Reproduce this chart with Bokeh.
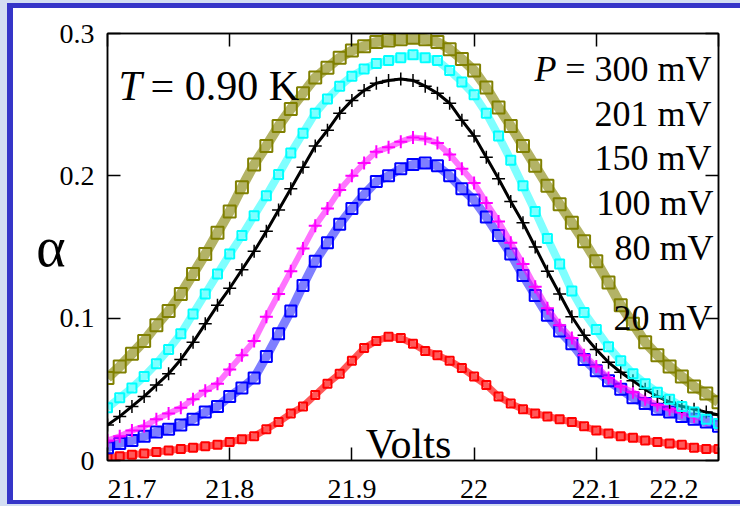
from bokeh.plotting import figure
from bokeh.models import Label, FixedTicker, CustomJSTickFormatter, LinearAxis, Range1d
from bokeh.embed import file_html
from bokeh.resources import INLINE

volts = [21.70, 21.71, 21.72, 21.73, 21.74, 21.75, 21.76, 21.77, 21.78, 21.79,
         21.80, 21.81, 21.82, 21.83, 21.84, 21.85, 21.86, 21.87, 21.88, 21.89,
         21.90, 21.91, 21.92, 21.93, 21.94, 21.95, 21.96, 21.97, 21.98, 21.99,
         22.00, 22.01, 22.02, 22.03, 22.04, 22.05, 22.06, 22.07, 22.08, 22.09,
         22.10, 22.11, 22.12, 22.13, 22.14, 22.15, 22.16, 22.17, 22.18, 22.19,
         22.20]

p300 = [0.058, 0.066, 0.075, 0.084, 0.095, 0.105, 0.117, 0.131, 0.145, 0.160,
        0.175, 0.192, 0.208, 0.221, 0.235, 0.247, 0.258, 0.269, 0.276, 0.283,
        0.288, 0.291, 0.294, 0.295, 0.296, 0.297, 0.296, 0.294, 0.289, 0.282,
        0.274, 0.262, 0.248, 0.235, 0.221, 0.207, 0.193, 0.180, 0.167, 0.154,
        0.140, 0.125, 0.109, 0.096, 0.083, 0.074, 0.066, 0.059, 0.052, 0.047,
        0.041]
p201 = [0.037, 0.044, 0.051, 0.059, 0.068, 0.078, 0.089, 0.103, 0.117, 0.131,
        0.145, 0.158, 0.172, 0.186, 0.201, 0.216, 0.230, 0.244, 0.254, 0.263,
        0.270, 0.275, 0.279, 0.281, 0.283, 0.285, 0.283, 0.281, 0.274, 0.266,
        0.257, 0.244, 0.228, 0.211, 0.193, 0.175, 0.156, 0.138, 0.119, 0.104,
        0.092, 0.080, 0.070, 0.061, 0.054, 0.048, 0.043, 0.038, 0.034, 0.029,
        0.026]
p150 = [0.025, 0.031, 0.038, 0.045, 0.053, 0.061, 0.071, 0.083, 0.096, 0.109,
        0.121, 0.134, 0.147, 0.161, 0.176, 0.191, 0.206, 0.221, 0.232, 0.244,
        0.253, 0.260, 0.265, 0.267, 0.268, 0.267, 0.263, 0.258, 0.251, 0.239,
        0.228, 0.213, 0.198, 0.182, 0.167, 0.150, 0.133, 0.117, 0.101, 0.088,
        0.078, 0.069, 0.062, 0.056, 0.050, 0.045, 0.041, 0.038, 0.036, 0.034,
        0.032]
p100 = [0.014, 0.017, 0.021, 0.024, 0.029, 0.033, 0.037, 0.043, 0.049, 0.054,
        0.064, 0.074, 0.084, 0.101, 0.117, 0.133, 0.149, 0.165, 0.177, 0.190,
        0.200, 0.209, 0.217, 0.220, 0.224, 0.227, 0.226, 0.223, 0.215, 0.205,
        0.195, 0.181, 0.168, 0.153, 0.138, 0.122, 0.107, 0.095, 0.086, 0.074,
        0.066, 0.058, 0.052, 0.048, 0.043, 0.039, 0.036, 0.034, 0.031, 0.029,
        0.026]
p80 = [0.009, 0.012, 0.014, 0.017, 0.020, 0.022, 0.025, 0.029, 0.034, 0.038,
       0.045, 0.051, 0.058, 0.073, 0.089, 0.105, 0.123, 0.140, 0.153, 0.166,
       0.177, 0.187, 0.196, 0.200, 0.205, 0.208, 0.209, 0.207, 0.200, 0.191,
       0.183, 0.171, 0.158, 0.145, 0.130, 0.116, 0.102, 0.091, 0.082, 0.071,
       0.063, 0.056, 0.050, 0.044, 0.040, 0.036, 0.034, 0.031, 0.029, 0.027,
       0.024]
p20 = [0.002, 0.003, 0.004, 0.005, 0.006, 0.007, 0.008, 0.009, 0.010, 0.011,
       0.013, 0.015, 0.017, 0.022, 0.027, 0.033, 0.038, 0.046, 0.054, 0.061,
       0.070, 0.079, 0.084, 0.087, 0.086, 0.082, 0.077, 0.074, 0.070, 0.065,
       0.059, 0.053, 0.045, 0.040, 0.036, 0.033, 0.031, 0.029, 0.027, 0.024,
       0.021, 0.019, 0.017, 0.016, 0.014, 0.013, 0.012, 0.011, 0.009, 0.008,
       0.008]

x_ticks = [21.7, 21.8, 21.9, 22.0, 22.1, 22.2]
x_tick_labels = ["21.7", "21.8", "21.9", "22", "22.1", "22.2"]
y_ticks = [0.0, 0.1, 0.2, 0.3]
y_tick_labels = ["0", "0.1", "0.2", "0.3"]
power_labels = ["300 mV", "201 mV", "150 mV", "100 mV", "80 mV", "20 mV"]

FONT = "Liberation Serif"
FS = "\u2007"   # figure space: shifts the end labels inward like the original
PS = "\u2008"   # punctuation space

p = figure(width=740, height=506, x_range=Range1d(21.7, 22.2), y_range=Range1d(0, 0.3),
           output_backend="svg", toolbar_location=None,
           min_border_left=107, min_border_right=22, min_border_top=33, min_border_bottom=43)
p.border_fill_alpha = 0
p.background_fill_color = "white"
p.outline_line_color = "black"
p.outline_line_width = 1.5
p.xgrid.visible = False
p.ygrid.visible = False
p.styles = {
    "background-color": "#d3def2",
    "background-image": "linear-gradient(#ffffff, #ffffff), linear-gradient(#3535c8, #3535c8)",
    "background-position": "13px 8px, 7px 3px",
    "background-size": "760px 492px, 760px 501px",
    "background-repeat": "no-repeat",
}

def style_axis(ax, ticks, labels):
    ax.ticker = FixedTicker(ticks=ticks)
    ax.major_tick_in = 13
    ax.major_tick_out = 0
    ax.minor_tick_in = 0
    ax.minor_tick_out = 0
    ax.axis_line_color = "black"
    ax.axis_line_width = 1.5
    ax.major_tick_line_width = 1.5
    ax.major_tick_line_color = "black"
    ax.major_label_text_font = FONT
    ax.major_label_text_color = "black"
    if labels is not None:
        ax.formatter = CustomJSTickFormatter(args=dict(labels=labels), code="return labels[index]")
        ax.major_label_text_font_size = "28px"
    else:
        ax.formatter = CustomJSTickFormatter(code="return ''")
        ax.major_label_text_font_size = "8px"
        ax.major_label_standoff = 0

bottom_labels = list(x_tick_labels)
bottom_labels[0] = FS * 3 + PS + x_tick_labels[0]
bottom_labels[-1] = x_tick_labels[-1] + FS * 2 + PS * 2
style_axis(p.xaxis[0], x_ticks, bottom_labels)
p.xaxis[0].major_label_standoff = 12
style_axis(p.yaxis[0], y_ticks, y_tick_labels)
p.yaxis[0].major_label_standoff = 13
p.yaxis[0].axis_label = "α"
p.yaxis[0].axis_label_orientation = "horizontal"
p.yaxis[0].axis_label_text_font = FONT
p.yaxis[0].axis_label_text_font_style = "normal"
p.yaxis[0].axis_label_text_font_size = "56px"
p.yaxis[0].axis_label_text_color = "black"
p.yaxis[0].axis_label_standoff = -9

top_ax = LinearAxis()
style_axis(top_ax, x_ticks, None)
p.add_layout(top_ax, "above")
right_ax = LinearAxis()
style_axis(right_ax, y_ticks, None)
p.add_layout(right_ax, "right")

series = [
    (p20, "#ff0000", "square", 8, 2.0, 7, 0.65),
    (p300, "#808000", "square", 12, 2.0, 10, 0.6),
    (p80, "#0000ff", "square", 11, 2.0, 9, 0.5),
    (p100, "#ff00ff", "cross", 13, 2.0, 6, 0.55),
    (p150, "#000000", "cross", 13, 1.5, 3, 1.0),
    (p201, "#00ffff", "square", 9, 2.0, 8, 0.5),
]
for ys, col, mk, sz, lw, band, balpha in series:
    p.line(volts, ys, line_color=col, line_width=band, line_alpha=balpha)
    p.scatter(volts, ys, marker=mk, size=sz, fill_color=None, line_color=col, line_width=lw)

def lab(x, y, text, size, align="left", style="normal"):
    p.add_layout(Label(x=x, y=y, x_units="canvas", y_units="canvas", text=text,
                       text_font=FONT, text_font_size=size, text_align=align,
                       text_baseline="alphabetic", text_font_style=style, text_color="black"))

lab(118, 85, "T", "42px", style="italic")
lab(150, 85, "= 0.90 K", "42px")
lab(556, 68, "P", "36px", align="right", style="italic")
lab(711, 68, "= " + power_labels[0], "36px", align="right")
lab(711, 113, power_labels[1], "36px", align="right")
lab(711, 157, power_labels[2], "36px", align="right")
lab(713, 202, power_labels[3], "36px", align="right")
lab(713, 247, power_labels[4], "36px", align="right")
lab(712, 317, power_labels[5], "36px", align="right")
lab(408, 443, "Volts", "42px", align="center")

open("out.html", "w").write(file_html(p, INLINE))
